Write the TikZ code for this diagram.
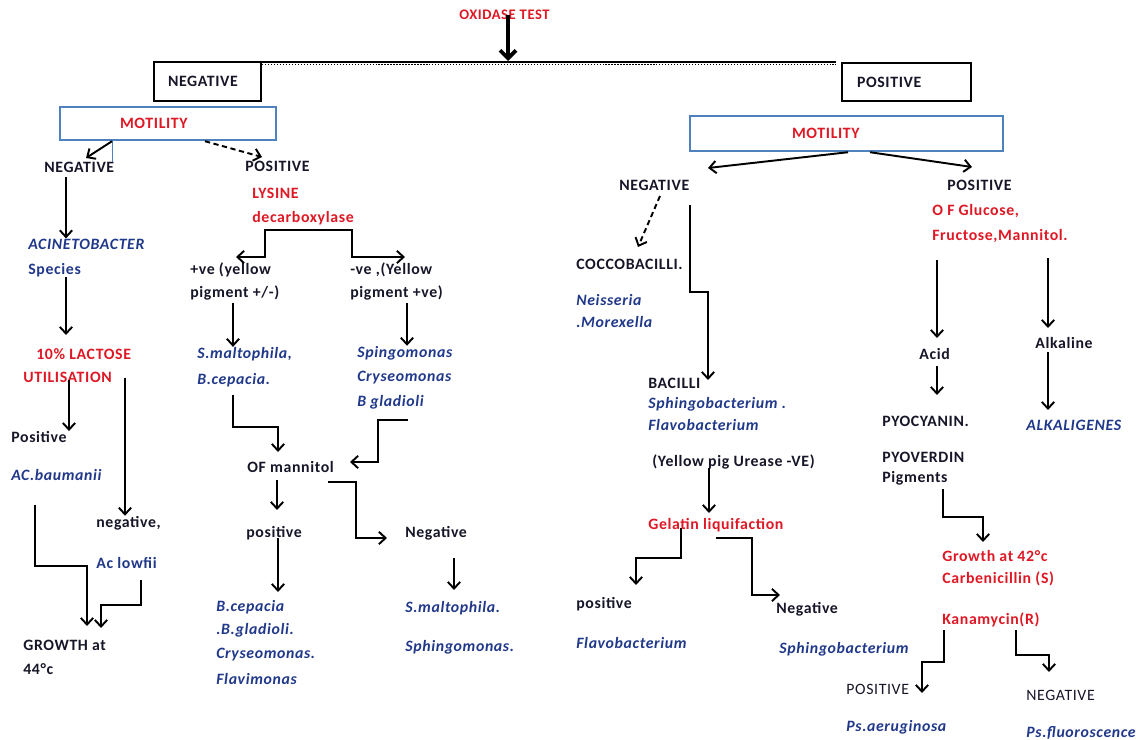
\documentclass[tikz,border=0pt]{standalone}
\usepackage{fontspec}
\setmainfont[LetterSpace=4]{Carlito}
\usetikzlibrary{arrows.meta}
\definecolor{vermelho}{RGB}{222,24,36}
\definecolor{azul}{RGB}{32,56,138}
\definecolor{preto}{RGB}{22,22,40}
\definecolor{azulcaixa}{RGB}{79,129,189}
\begin{document}
\begin{tikzpicture}[x=0.02cm,y=-0.02cm,
  txt/.style={anchor=west,inner sep=0pt,text=preto,font=\fontsize{9}{10}\selectfont\bfseries},
  txtn/.style={txt,font=\fontsize{9}{10}\selectfont},
  verm/.style={txt,text=vermelho},
  esp/.style={txt,text=azul,font=\fontsize{9}{10}\selectfont\bfseries\itshape},
  espn/.style={txt,text=azul},
  caixa/.style={draw=black,line width=1.4pt,align=left,inner ysep=0pt,text=preto,
    font=\fontsize{9}{10}\selectfont\bfseries},
  caixaazul/.style={caixa,draw=azulcaixa,text=vermelho},
  seta/.style={line width=1.1pt,-{Straight Barb[length=3.8pt,width=7pt]}},
  linha/.style={line width=1.1pt}]

\useasboundingbox (0,0) rectangle (1136,740);

% topo
\node[verm,font=\fontsize{8.3}{9}\selectfont\bfseries] (oxi) at (459,15) {OXIDASE TEST};
\coordinate (barra) at (508,61);
\draw[line width=1.3pt] (215,62) -- (836,62);
\draw[densely dotted,line width=0.7pt] (262,64.5) -- (836,64.5);
\draw[line width=2.2pt,-{Straight Barb[length=4.5pt,width=9pt]}] (508,0 |- oxi.center) -- (barra);

% caixas
\node[caixa,minimum height=0.78cm,text width=1.58cm,inner xsep=0.28cm] (negbox) at (207.5,81.5) {NEGATIVE};
\node[caixa,minimum height=0.76cm,text width=1.98cm,inner xsep=0.30cm] (posbox) at (906.5,82) {POSITIVE};
\node[caixaazul,minimum height=0.66cm,text width=1.92cm,inner xsep=1.2cm] (motL) at (168,123.5) {MOTILITY};
\node[caixaazul,minimum height=0.70cm,text width=2.18cm,inner xsep=2.04cm] (motR) at (846.5,133.5) {MOTILITY};

% ramo negativo
\node[txt] (negL) at (44,167) {NEGATIVE};
\node[txt] (posL) at (245,166) {POSITIVE};
\node[verm] (lys) at (252,193) {LYSINE};
\node[verm] (dec) at (252,218) {decarboxylase};
\node[esp] (acin) at (28,244) {ACINETOBACTER};
\node[espn] (spcs) at (28,270) {Species};
\node[verm] (lac1) at (36,354) {10\% LACTOSE};
\node[verm] (lac2) at (23,377) {UTILISATION};
\node[txt] (posA) at (11,437) {Positive};
\node[esp] (bau) at (11,475) {AC.baumanii};
\node[txt] (negA) at (96,523) {negative,};
\node[espn] (low) at (96,563) {Ac lowfii};
\node[txt] (gro1) at (23,645) {GROWTH at};
\node[txt] (gro2) at (23,669) {44°c};

\draw[azulcaixa,thin] (112,0 |- motL.south) -- (112,162);
\draw[seta] (112,0 |- motL.south) -- (86,158);
\draw[seta,densely dashed] (205,0 |- motL.south) -- (262,157);
\draw[seta] (66,177) -- (66,0 |- acin.north);
\draw[seta] (66,0 |- spcs.south) -- (66,335);
\draw[seta] (69,380) -- (69,0 |- posA.north);
\draw[seta] (125,378) -- (125,0 |- negA.north);
\draw[seta] (35,505) |- (87,566) -- (87,626);
\draw[seta] (141,580) |- (101,605) -- (101,628);

% lisina
\node[txt] (yel1) at (190,270) {+ve (yellow};
\node[txt] (yel2) at (190,293) {pigment +/-)};
\node[txt] (yvn1) at (350,270) {-ve ,(Yellow};
\node[txt] (yvn2) at (350,293) {pigment +ve)};
\node[esp] (smal1) at (197,354) {S.maltophila,};
\node[esp] (smal2) at (197,380) {B.cepacia.};
\node[esp] (sping1) at (357,353) {Spingomonas};
\node[esp] (sping2) at (357,378) {Cryseomonas};
\node[esp] (sping3) at (357,402) {B gladioli};
\node[txt] (ofm) at (247,467) {OF mannitol};
\node[txt] (ofpos) at (246,533) {positive};
\node[txt] (ofneg) at (405,533) {Negative};
\node[esp] (bc1) at (216,607) {B.cepacia};
\node[esp] (bc2) at (216,630) {.B.gladioli.};
\node[esp] (bc3) at (216,655) {Cryseomonas.};
\node[esp] (bc4) at (216,679) {Flavimonas};
\node[esp] (sm1) at (405,608) {S.maltophila.};
\node[esp] (sm2) at (405,647) {Sphingomonas.};

\coordinate (garfo) at (309,230);
\draw[seta] (garfo) -| (265,257) -- (236,257);
\draw[seta] (garfo) -| (352,257) -- (405,257);
\draw[seta] (233,303) -- (233,0 |- smal1.north);
\draw[seta] (407,303) -- (407,0 |- sping1.north);
\draw[seta] (233,395) |- (278,427) -- (278,452);
\draw[seta] (408,420) -| (378,462) -- (350,462);
\draw[seta] (277,480) -- (277,510);
\draw[seta] (278,538) -- (278,592);
\draw[seta] (328,482) -| (356,538) -- (387,538);
\draw[seta] (454,558) -- (454,590);

% ramo positivo
\node[txt] (negR) at (619,185) {NEGATIVE};
\node[txt] (posR) at (947,185) {POSITIVE};
\node[txt] (cocco) at (576,264) {COCCOBACILLI.};
\node[esp] (nei1) at (576,300) {Neisseria};
\node[esp] (nei2) at (576,322) {.Morexella};
\node[txt] (bac) at (648,383) {BACILLI};
\node[esp] (bac2) at (648,404) {Sphingobacterium .};
\node[esp] (bac3) at (648,425) {Flavobacterium};
\node[txt] (yelpig) at (652,462) {(Yellow pig Urease -VE)};
\node[verm] (gel) at (648,525) {Gelatin liquifaction};
\node[txt] (gpos) at (576,604) {positive};
\node[esp] (gflav) at (576,643) {Flavobacterium};
\node[txt] (gneg) at (776,609) {Negative};
\node[esp] (gsph) at (779,649) {Sphingobacterium};

\draw[seta] (848,0 |- motR.south) -- (708,168);
\draw[seta] (870,0 |- motR.south) -- (972,167);
\draw[seta,densely dashed] (660,196) -- (638,247);
\draw[seta] (690,205) -- (690,292) -| (708,380);
\draw[seta] (709,468) -- (709,513);
\draw[seta] (681,528) |- (636,558) -- (636,585);
\draw[seta] (716,538) -| (752,595) -- (780,595);

\node[verm] (ofg1) at (932,211) {O F Glucose,};
\node[verm] (ofg2) at (932,236) {Fructose,Mannitol.};
\node[txt] (acid) at (919,354) {Acid};
\node[txt] (alk) at (1035,343) {Alkaline};
\node[txt] (pyo1) at (882,421) {PYOCYANIN.};
\node[esp] (alkg) at (1026,425) {ALKALIGENES};
\node[txt] (pyo2) at (882,457) {PYOVERDIN};
\node[txt] (pyo3) at (882,478) {Pigments};
\node[verm] (gr1) at (942,556) {Growth at 42°c};
\node[verm] (gr2) at (942,579) {Carbenicillin (S)};
\node[verm] (kan) at (942,620) {Kanamycin(R)};
\node[txtn] (ppos) at (846,689) {POSITIVE};
\node[txtn] (pneg) at (1026,695) {NEGATIVE};
\node[esp] (aer) at (846,727) {Ps.aeruginosa};
\node[esp] (flu) at (1026,733) {Ps.fluoroscence};

\draw[seta] (937,260) -- (937,338);
\draw[seta] (1048,258) -- (1048,328);
\draw[seta] (937,366) -- (937,395);
\draw[seta] (1048,352) -- (1048,410);
\draw[seta] (943,489) |- (983,517) -- (983,542);
\draw[seta] (944,630) |- (922,662) -- (922,693);
\draw[seta] (1016,630) |- (1049,655) -- (1049,672);

\end{tikzpicture}
\end{document}
